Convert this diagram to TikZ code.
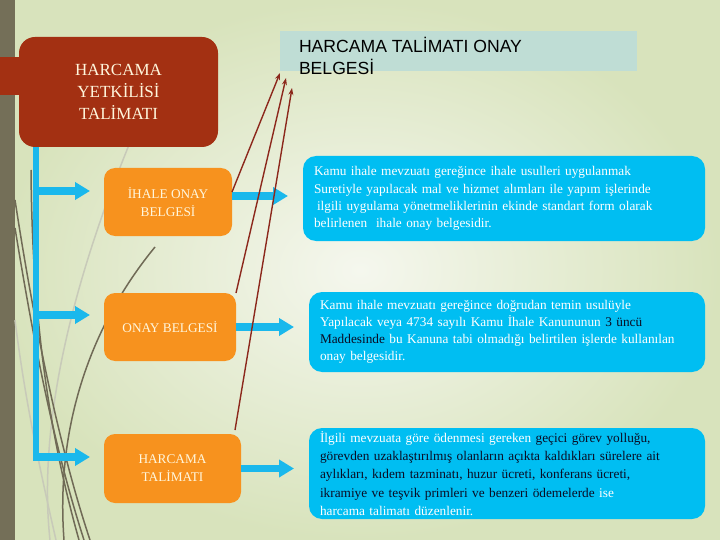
\documentclass[tikz,border=0pt]{standalone}
\usepackage{fontspec}
\setmainfont{Liberation Serif}
\setsansfont{Liberation Sans}
\usepackage{tikz}
\usetikzlibrary{positioning,arrows.meta}
\definecolor{colorbg}       {RGB}{245,247,238}
\definecolor{colorbgedge}   {RGB}{216,227,188}
\definecolor{colorbar}      {RGB}{116,111,88 }
\definecolor{colorhead}     {RGB}{163,48 ,18 }
\definecolor{colortitle}    {RGB}{191,221,213}
\definecolor{colordoc}      {RGB}{247,146,30 }
\definecolor{colordoctext}  {RGB}{255,246,220}
\definecolor{colordesc}     {RGB}{0  ,190,242}
\definecolor{colorspine}    {RGB}{26 ,184,236}
\definecolor{colorlink}     {RGB}{140,40 ,28 }
\definecolor{colorswirl}    {RGB}{112,106,86 }
\definecolor{colorswirlpale}{RGB}{200,202,185}
\definecolor{colordark}     {RGB}{10 ,12 ,36 }

\begin{document}
\begin{tikzpicture}[
    x=1pt, y=-1pt,
    base/.style={inner sep=0pt,outer sep=0pt,rectangle,align=center},
    headnode/.style={base,fill=colorhead,text=colordoctext,rounded corners=16pt,
        minimum width=199pt,minimum height=110pt,font={\fontsize{17}{22}\selectfont}},
    docnode/.style={base,fill=colordoc,text=colordoctext,rounded corners=11pt,
        minimum height=68pt,font={\fontsize{13.3}{18}\selectfont}},
    descnode/.style={base,fill=colordesc,text=white,align=left,rounded corners=13pt,
        inner xsep=11pt,font={\fontsize{13.3}{17.2}\selectfont}},
    titlebox/.style={base,fill=colortitle,minimum width=357pt,minimum height=40pt},
    titletext/.style={base,align=left,text=black,font={\sffamily\fontsize{17.6}{22}\selectfont}},
    spine/.style={colorspine,line width=6pt},
    branch/.style={colorspine,line width=7.5pt,-{Triangle[length=15pt,width=17pt]}},
    link/.style={colorlink,line width=1.4pt,-{Stealth[length=7pt,width=5pt]}},
    swirl/.style={colorswirl,line width=1.5pt},
    paleswirl/.style={colorswirlpale,line width=1.5pt},
]

    \useasboundingbox (0,0) rectangle (720,540);
    \shade[inner color=colorbg,outer color=colorbgedge] (0,0) rectangle (720,540);
    \fill[colorbar] (0,0) rectangle (15,540);

    \draw[paleswirl] (131,140) .. controls (90,240) and (35,400) .. (50,540);
    \draw[paleswirl] (15,320) .. controls (25,400) and (40,470) .. (56,540);
    \draw[swirl] (15,200) .. controls (35,330) and (60,450) .. (90,540);
    \draw[swirl] (15,228) .. controls (35,350) and (55,450) .. (84,540);
    \draw[swirl] (31,170) .. controls (32,300) and (45,420) .. (79,540);
    \draw[swirl] (155,247) .. controls (95,320) and (55,420) .. (64,540);

    \fill[colorhead] (0,57) rectangle (22,95);
    \node[headnode] (head) at (118.5,92) {HARCAMA\\YETKİLİSİ\\TALİMATI};

    \node[titlebox] (title) at (458.5,51) {};
    \node[titletext,anchor=north west] (titlelabel) at (299,37.5) {HARCAMA TALİMATI ONAY\\BELGESİ};

    \node[docnode,minimum width=128pt] at (168,202) (o1) {İHALE ONAY\\BELGESİ};
    \node[docnode,minimum width=132pt] at (170,327) (o2) {ONAY BELGESİ};
    \node[docnode,minimum width=137pt,minimum height=69pt] at (172.5,468.5) (o3) {HARCAMA\\TALİMATI};

    \node[descnode,text width=380pt,minimum height=85pt] at (504,198.5) (d1) {Kamu ihale mevzuatı gereğince ihale usulleri uygulanmak\\
    Suretiyle yapılacak mal ve hizmet alımları ile yapım işlerinde\\
    \hspace*{3pt}ilgili uygulama yönetmeliklerinin ekinde standart form olarak\\
    belirlenen\ \ ihale onay belgesidir.};
    \node[descnode,text width=374pt,minimum height=80pt] at (507,332) (d2) {Kamu ihale mevzuatı gereğince doğrudan temin usulüyle\\
    Yapılacak veya 4734 sayılı Kamu İhale Kanununun \textcolor{colordark}{3 üncü}\\
    \textcolor{colordark}{Maddesinde} bu Kanuna tabi olmadığı belirtilen işlerde kullanılan\\
    onay belgesidir.};
    \node[descnode,text width=374pt,minimum height=91pt,font={\fontsize{13.3}{18.3}\selectfont}] at (507,473.5) (d3) {İlgili mevzuata göre ödenmesi gereken \textcolor{colordark}{geçici görev yolluğu,}\\
    \textcolor{colordark}{görevden uzaklaştırılmış olanların açıkta kaldıkları sürelere ait}\\
    \textcolor{colordark}{aylıkları, kıdem tazminatı, huzur ücreti, konferans ücreti,}\\
    \textcolor{colordark}{ikramiye ve teşvik primleri ve benzeri ödemelerde} ise\\
    harcama talimatı düzenlenir.};

    \coordinate (spinetop) at (36,147);
    \coordinate (b1) at ([yshift=11pt]o1.west -| spinetop);
    \coordinate (b2) at ([yshift=12pt]o2.west -| spinetop);
    \coordinate (b3) at ([yshift=11.5pt]o3.west -| spinetop);
    \draw[spine] (head.south -| spinetop) -- ([yshift=-3.5pt]b3);
    \draw[branch,shorten >=14pt] (b1) -- ([yshift=11pt]o1.west);
    \draw[branch,shorten >=14pt] (b2) -- ([yshift=12pt]o2.west);
    \draw[branch,shorten >=14pt] (b3) -- ([yshift=11.5pt]o3.west);

    \draw[branch,shorten >=15pt] ([yshift=6pt]o1.east) -- ([yshift=6pt]o1.east -| d1.west);
    \draw[branch,shorten >=15pt] (o2.east) -- (o2.east -| d2.west);
    \draw[branch,shorten >=15pt] (o3.east) -- (o3.east -| d3.west);

    \draw[link] ([yshift=10pt]o1.east) -- ([yshift=-2pt]title.south west);
    \draw[link] (o2.north east) -- ([xshift=6pt,yshift=-7pt]title.south west);
    \draw[link] ([xshift=-6pt,yshift=4pt]o3.north east) -- ([xshift=12pt,yshift=-17pt]title.south west);

\end{tikzpicture}
\end{document}
